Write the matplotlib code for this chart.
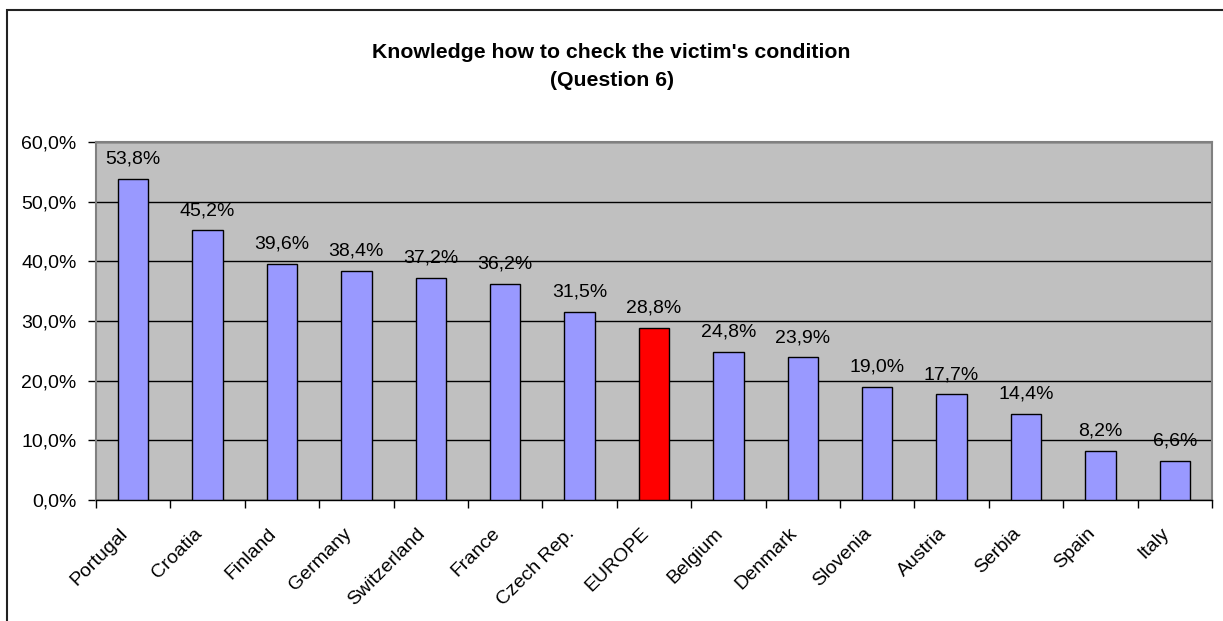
import matplotlib
matplotlib.use("Agg")
import matplotlib.pyplot as plt
from matplotlib.patches import Rectangle
import numpy as np

countries = ["Portugal", "Croatia", "Finland", "Germany", "Switzerland", "France",
             "Czech Rep.", "EUROPE", "Belgium", "Denmark", "Slovenia", "Austria",
             "Serbia", "Spain", "Italy"]
values = [53.8, 45.2, 39.6, 38.4, 37.2, 36.2, 31.5, 28.8, 24.8, 23.9, 19.0, 17.7, 14.4, 8.2, 6.6]
highlight = "EUROPE"
yticks = [0, 10, 20, 30, 40, 50, 60]
title = "Knowledge how to check the victim's condition\n(Question 6)"

plt.rcParams['font.family'] = ['Liberation Sans', 'DejaVu Sans']

W, H = 1223, 621
fig = plt.figure(figsize=(W / 100, H / 100), dpi=100)
fig.patch.set_facecolor("white")

# outer frame
fig.patches.append(Rectangle((7 / W, -0.05), 1.2, (H - 10) / H + 0.05,
                             transform=fig.transFigure, fill=False,
                             edgecolor="#222222", linewidth=1.5))

ax = fig.add_axes([96 / W, 1 - 500 / H, (1212 - 96) / W, (500 - 142) / H])
ax.set_facecolor("#C0C0C0")

x = np.arange(len(countries))
colors = ["#FF0000" if c == highlight else "#9999FF" for c in countries]
bars = ax.bar(x, values, width=0.41, color=colors, edgecolor="black", linewidth=1, zorder=3)

for xi, v in zip(x, values):
    ax.annotate(f"{v:.1f}%".replace(".", ","), (xi, v), xytext=(0, 11),
                textcoords="offset points", ha="center", va="baseline",
                fontsize=14, zorder=4)

ax.set_xlim(-0.5, len(countries) - 0.5)
ax.set_ylim(0, 60)
ax.set_yticks(yticks)
ax.set_yticklabels([f"{t:.1f}%".replace(".", ",") for t in yticks], fontsize=14)
ax.yaxis.grid(True, color="black", linewidth=1, zorder=1)
ax.set_axisbelow(True)

# category labels (rotated), placed at the category centres
ax.set_xticks(x)
ax.set_xticklabels([])
for xi, name in zip(x, countries):
    ax.annotate(name, (xi, 0), xycoords=("data", "axes fraction"),
                xytext=(-10, -18), textcoords="offset points",
                rotation=45, ha="right", va="top", rotation_mode="anchor",
                fontsize=14, annotation_clip=False)
ax.set_xticks(np.arange(-0.5, len(countries), 1), minor=True)
ax.tick_params(axis="x", which="major", length=0)
ax.tick_params(axis="x", which="minor", length=6, width=1, color="black")
ax.tick_params(axis="y", length=6, width=1, color="black", pad=8)

for s in ["top", "right", "left"]:
    ax.spines[s].set_color("#808080")
    ax.spines[s].set_linewidth(1.5)
ax.spines["bottom"].set_color("black")
ax.spines["bottom"].set_linewidth(1)

fig.text(0.5, 1 - 66 / H, title, ha="center", va="center", fontsize=15.3,
         fontweight="bold", linespacing=1.6)

fig.savefig("out.png", dpi=100)
